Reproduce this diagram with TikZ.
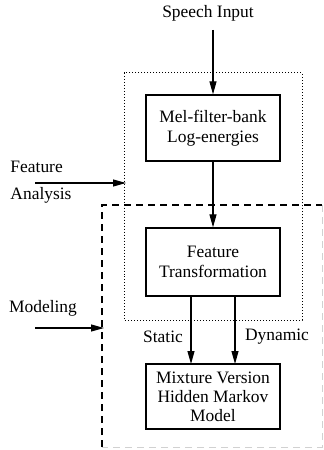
\documentclass[tikz,border=0pt]{standalone}
\usepackage{fontspec}
\setmainfont{Liberation Serif}
\usetikzlibrary{arrows.meta}
\begin{document}
\begin{tikzpicture}[x=1bp,y=-1bp,
  every node/.style={font=\fontsize{17.5}{20.5}\selectfont, inner sep=0pt},
  block/.style={draw, line width=1.3bp, minimum width=134bp, align=center},
  flow/.style={line width=1.1bp, -{Triangle[length=13bp,width=7bp]}},
  lbl/.style={align=left}]
\useasboundingbox (0,0) rectangle (323,450);

% grouping frames
\draw[dotted, line width=1bp] (124,73) rectangle (302,320);
\draw[dash pattern=on 7bp off 5bp, line width=1.1bp] (102,447) -- (102,205) -- (322,205);
\draw[dash pattern=on 7bp off 5bp, line width=0.8bp, black!18] (322,205) -- (322,447) -- (102,447);

% processing blocks
\node[block, minimum height=66bp] (mel) at (213,128) {Mel-filter-bank\\Log-energies};
\node[block, minimum height=68bp] (ft) at (213,262) {Feature\\Transformation};
\node[block, minimum height=65bp, font=\fontsize{17.5}{19}\selectfont] (hmm) at (213,396.5) {Mixture Version\\Hidden Markov\\Model};

% input
\node (in) at (208,13) {Speech Input};
\coordinate (inS) at (213,30);
\draw[flow] (inS) -- (mel.north);
\draw[flow] (mel.south) -- (ft.north);

% feature streams
\coordinate (sA) at (191,296);
\coordinate (sB) at (191,364);
\coordinate (dA) at (235,296);
\coordinate (dB) at (235,364);
\draw[flow] (sA) -- (sB);
\draw[flow] (dA) -- (dB);
\node (st) at (163,337) {Static};
\node (dy) at (277,337) {Dynamic};

% stage labels
\node[lbl] (fa) at (41,182) {Feature\\[6bp]Analysis};
\coordinate (faA) at (35,183);
\coordinate (faB) at (126,183);
\draw[flow] (faA) -- (faB);

\node (mo) at (43,308) {Modeling};
\coordinate (moA) at (35,328);
\coordinate (moB) at (104,328);
\draw[flow] (moA) -- (moB);
\end{tikzpicture}
\end{document}
